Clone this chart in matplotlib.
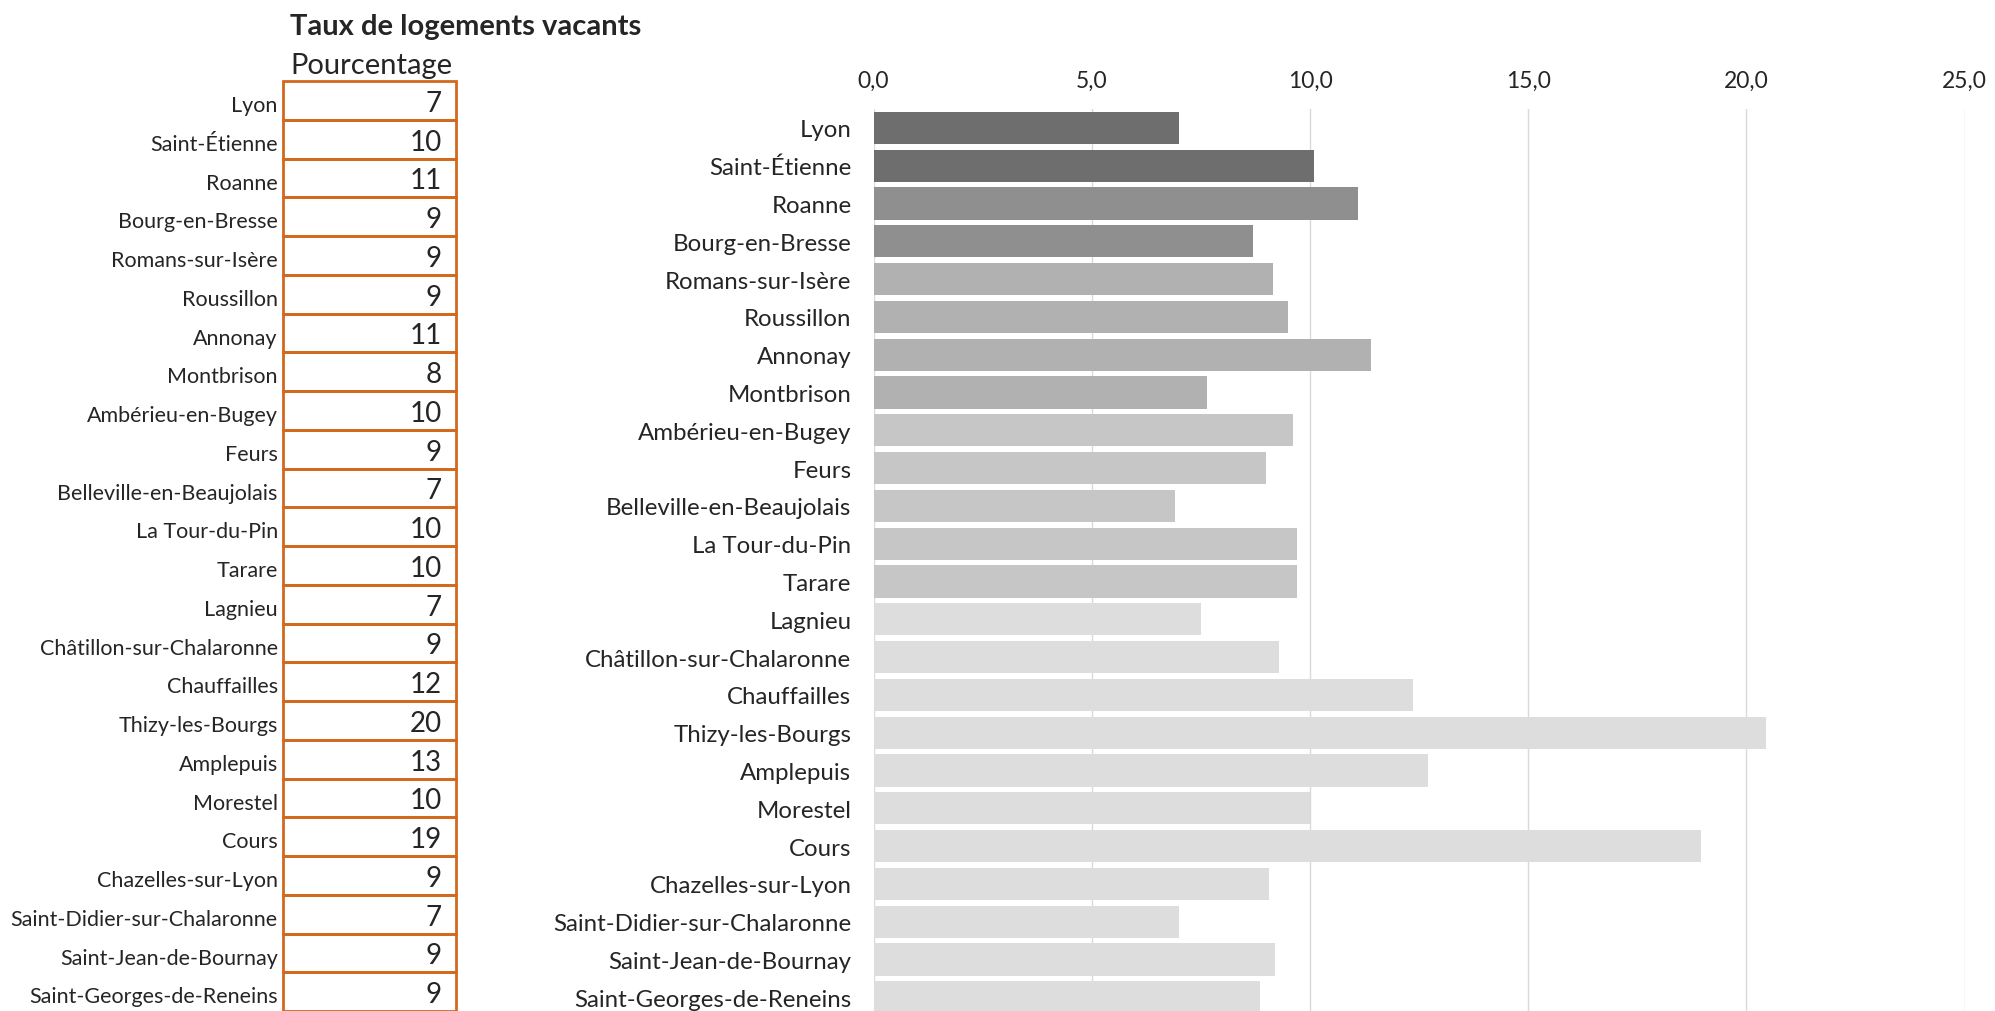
import matplotlib
matplotlib.use('Agg')
import matplotlib.pyplot as plt
from matplotlib.patches import Rectangle
from matplotlib.ticker import FuncFormatter

plt.rcParams['font.family'] = ['Lato', 'DejaVu Sans']

villes = ['Lyon', 'Saint-Étienne', 'Roanne', 'Bourg-en-Bresse', 'Romans-sur-Isère',
          'Roussillon', 'Annonay', 'Montbrison', 'Ambérieu-en-Bugey', 'Feurs',
          'Belleville-en-Beaujolais', 'La Tour-du-Pin', 'Tarare', 'Lagnieu',
          'Châtillon-sur-Chalaronne', 'Chauffailles', 'Thizy-les-Bourgs', 'Amplepuis',
          'Morestel', 'Cours', 'Chazelles-sur-Lyon', 'Saint-Didier-sur-Chalaronne',
          'Saint-Jean-de-Bournay', 'Saint-Georges-de-Reneins']
taux = [7.0, 10.1, 11.1, 8.7, 9.15, 9.5, 11.4, 7.65, 9.6, 9.0,
        6.9, 9.7, 9.7, 7.5, 9.3, 12.35, 20.45, 12.7,
        10.0, 18.95, 9.05, 7.0, 9.2, 8.85]
taux_arrondi = [7, 10, 11, 9, 9, 9, 11, 8, 10, 9,
                7, 10, 10, 7, 9, 12, 20, 13,
                10, 19, 9, 7, 9, 9]
# nombre de barres par teinte, du plus foncé au plus clair
groupes = [2, 2, 4, 5, 11]
teintes = ['#6f6e6f', '#8f8f8f', '#b1b1b1', '#c6c6c6', '#dddddd']
ticks = [0, 5, 10, 15, 20, 25]

W, H = 1995, 1012
txt = '#252525'
orange = '#d2691e'

fig = plt.figure(figsize=(W / 100, H / 100), dpi=100)

couleurs = []
for n, c in zip(groupes, teintes):
    couleurs += [c] * n

# --- barres ---
x0, x1 = 873.6, 1964.6
ytop = 110
ax = fig.add_axes([x0 / W, 0, (x1 - x0) / W, 1 - ytop / H])
pos = list(range(len(villes)))
ax.barh(pos, taux, height=0.85, color=couleurs, zorder=2)
ax.set_xlim(0, 25)
ax.set_ylim((H - 128.9) / 37.8, -0.5)
ax.set_xticks(ticks)
ax.xaxis.set_major_formatter(FuncFormatter(lambda v, p: f'{v:.1f}'.replace('.', ',')))
ax.xaxis.tick_top()
ax.tick_params(axis='x', length=0, pad=13, labelsize=16.5, labelcolor=txt)
ax.set_yticks(pos)
ax.set_yticklabels(villes)
ax.tick_params(axis='y', length=0, pad=16, labelsize=17.3, labelcolor=txt)
ax.grid(axis='x', color='#d9d9d9', linewidth=1.0, zorder=0)
for s in ax.spines.values():
    s.set_visible(False)

# --- tableau ---
t0, t1 = 283, 455.5
ttop = 82
tax = fig.add_axes([t0 / W, 0, (t1 - t0) / W, 1 - ttop / H])
tax.set_xlim(0, 1)
tax.set_ylim(len(villes), 0)
tax.axis('off')
for i, (v, r) in enumerate(zip(villes, taux_arrondi)):
    tax.add_patch(Rectangle((0, i), 1, 1, fill=False, edgecolor=orange,
                            linewidth=2.0, clip_on=False))
    tax.text(0.92, i + 0.5, str(r), ha='right', va='center_baseline',
             fontsize=20, color=txt)
    tax.text(-0.03, i + 0.57, v, ha='right', va='center_baseline',
             fontsize=15.5, color=txt)

fig.text(290 / W, 1 - 35 / H, 'Taux de logements vacants', fontsize=21,
         fontweight='bold', color=txt, ha='left', va='baseline')
fig.text(290 / W, 1 - 74 / H, 'Pourcentage', fontsize=21,
         color=txt, ha='left', va='baseline')

fig.savefig('out.png', dpi=100)
